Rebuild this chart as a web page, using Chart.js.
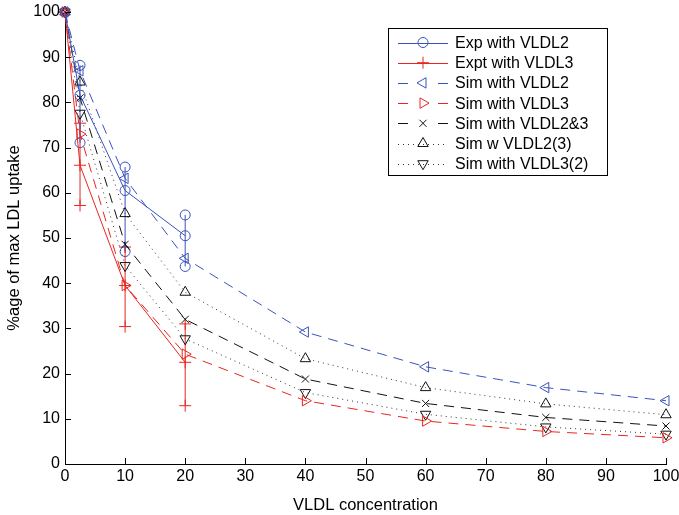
<!DOCTYPE html>
<html>
<head>
<meta charset="utf-8">
<script src="https://cdn.jsdelivr.net/npm/chart.js@4.4.0/dist/chart.umd.min.js"></script>
<style>
  body { margin: 0; background: #fff; }
  #wrap { width: 679px; height: 515px; }
</style>
</head>
<body>
<div id="wrap"><canvas id="chart" width="679" height="515"></canvas></div>
<script>
// values
const expX = [0, 2.5, 10, 20]
const exp2Mid = [100, 81.6, 60.5, 50.5]
const exp2Hi = [100, 88.2, 65.7, 55.1]
const exp2Lo = [100, 71.1, 47, 43.7]
const exp3Mid = [100, 66.1, 39.5, 22.5]
const exp3Hi = [100, 75.4, 48, 31]
const exp3Lo = [100, 57.2, 30.4, 12.9]

const simX = [0, 2.5, 10, 20, 40, 60, 80, 100]
const sim2 = [100, 87, 63.2, 45.5, 29.2, 21.5, 16.9, 14.0]
const sim3 = [100, 73, 39.5, 24.3, 14.0, 9.5, 7.2, 5.8]
const sim23 = [100, 81, 48.6, 32, 18.8, 13.4, 10.3, 8.4]
const sim2w3 = [100, 84.5, 55.4, 38, 23.3, 16.9, 13.3, 10.9]
const sim3w2 = [100, 77.6, 43.9, 27.7, 15.8, 11, 8.2, 6.6]

const xTicks = [0, 10, 20, 30, 40, 50, 60, 70, 80, 90, 100]
const yTicks = [0, 10, 20, 30, 40, 50, 60, 70, 80, 90, 100]

const BLUE = '#3b52bd'
const RED = '#e8261f'
const BLACK = '#111'
const DOTS = '#333'
const FONT = '"Liberation Sans", Arial, Helvetica, sans-serif'

function pts(xs, ys) {
    return xs.map((x, i) => ({ x: x, y: ys[i] }))
}

// vertical error bars as broken line segments
function bars(xs, lo, hi) {
    let out = []
    for (let i = 1; i < xs.length; i++) {
        out.push({ x: xs[i], y: lo[i] }, { x: xs[i], y: hi[i] }, { x: xs[i], y: null })
    }
    return out
}

const series = [
    { label: 'Exp with VLDL2', data: pts(expX, exp2Mid), color: BLUE, mark: BLUE, dash: [], legDash: [], pointStyle: 'circle', rot: 0, r: 5 },
    { label: 'Expt with VLDL3', data: pts(expX, exp3Mid), color: RED, mark: RED, dash: [], legDash: [], pointStyle: 'cross', rot: 0, r: 6 },
    { label: 'Sim with VLDL2', data: pts(simX, sim2), color: BLUE, mark: BLUE, dash: [10, 7], legDash: [10, 30], pointStyle: 'triangle', rot: -90, r: 6 },
    { label: 'Sim with VLDL3', data: pts(simX, sim3), color: RED, mark: RED, dash: [10, 7], legDash: [10, 30], pointStyle: 'triangle', rot: 90, r: 6 },
    { label: 'Sim with VLDL2&3', data: pts(simX, sim23), color: BLACK, mark: BLACK, dash: [10, 7], legDash: [10, 30], pointStyle: 'crossRot', rot: 0, r: 5 },
    { label: 'Sim w VLDL2(3)', data: pts(simX, sim2w3), color: DOTS, mark: BLACK, dash: [1, 4], legDash: [1, 4], pointStyle: 'triangle', rot: 0, r: 6 },
    { label: 'Sim with VLDL3(2)', data: pts(simX, sim3w2), color: DOTS, mark: BLACK, dash: [1, 4], legDash: [1, 4], pointStyle: 'triangle', rot: 180, r: 6 }
]

const datasets = series.map(s => ({
    label: s.label,
    data: s.data,
    borderColor: s.color,
    pointBorderColor: s.mark,
    backgroundColor: 'rgba(0,0,0,0)',
    borderWidth: 1,
    pointBorderWidth: 1,
    borderDash: s.dash,
    pointStyle: s.pointStyle,
    pointRotation: s.rot,
    pointRadius: s.r,
    tension: 0,
    clip: false
}))

datasets.push({
    label: 'err2',
    data: bars(expX, exp2Lo, exp2Hi),
    borderColor: BLUE, backgroundColor: 'rgba(0,0,0,0)', borderWidth: 1,
    pointStyle: 'circle', pointRadius: 5, pointBorderColor: BLUE, spanGaps: false, clip: false
})
datasets.push({
    label: 'err3',
    data: bars(expX, exp3Lo, exp3Hi),
    borderColor: RED, backgroundColor: 'rgba(0,0,0,0)', borderWidth: 1,
    pointStyle: 'cross', pointRadius: 6, pointBorderColor: RED, spanGaps: false, clip: false
})

// ticks pointing into the plot, like the original
const innerTicks = {
    id: 'innerTicks',
    afterDraw(chart) {
        const ctx = chart.ctx
        const xs = chart.scales.x, ys = chart.scales.y
        const a = chart.chartArea
        ctx.save()
        ctx.strokeStyle = '#000'
        ctx.lineWidth = 1
        ctx.beginPath()
        xTicks.forEach(v => {
            let px = Math.round(xs.getPixelForValue(v)) + 0.5
            ctx.moveTo(px, a.bottom)
            ctx.lineTo(px, a.bottom - 6)
        })
        yTicks.forEach(v => {
            let py = Math.round(ys.getPixelForValue(v)) + 0.5
            ctx.moveTo(a.left, py)
            ctx.lineTo(a.left + 6, py)
        })
        ctx.stroke()
        ctx.restore()
    }
}

// matlab style legend box
const boxLegend = {
    id: 'boxLegend',
    afterDraw(chart) {
        const ctx = chart.ctx
        const left = 388, top = 28, w = 219, h = 147
        ctx.save()
        ctx.fillStyle = '#fff'
        ctx.fillRect(left, top, w, h)
        ctx.strokeStyle = '#000'
        ctx.lineWidth = 1
        ctx.strokeRect(left + 0.5, top + 0.5, w, h)
        series.forEach((s, i) => {
            const y = top + 14.5 + i * 20.2
            ctx.strokeStyle = s.color
            ctx.setLineDash(s.legDash)
            ctx.beginPath()
            ctx.moveTo(398, Math.round(y) + 0.5)
            ctx.lineTo(448, Math.round(y) + 0.5)
            ctx.stroke()
            ctx.setLineDash([])
            ctx.strokeStyle = s.mark
            ctx.fillStyle = 'rgba(0,0,0,0)'
            Chart.helpers.drawPoint(ctx, {
                pointStyle: s.pointStyle, rotation: s.rot, radius: s.r, borderWidth: 1
            }, 423, y)
            ctx.fillStyle = '#000'
            ctx.font = '16px ' + FONT
            ctx.textBaseline = 'middle'
            ctx.fillText(s.label, 455, y + 1)
        })
        ctx.restore()
    }
}

new Chart(document.getElementById('chart'), {
    type: 'line',
    data: { datasets: datasets },
    plugins: [innerTicks, boxLegend],
    options: {
        responsive: false,
        animation: false,
        layout: { padding: { left: 0, right: 13, top: 12, bottom: 0 } },
        plugins: { legend: { display: false }, tooltip: { enabled: false } },
        scales: {
            x: {
                type: 'linear', min: 0, max: 100,
                afterBuildTicks: s => { s.ticks = xTicks.map(v => ({ value: v })) },
                afterFit: s => { s.height = 51; s.paddingLeft = 0; s.paddingRight = 0 },
                grid: { display: false, drawTicks: false },
                border: { display: true, color: '#000', width: 1 },
                ticks: { color: '#000', padding: 3, font: { family: FONT, size: 16 } },
                title: { display: true, text: 'VLDL concentration', color: '#000', padding: { top: 4, bottom: 0 }, font: { family: FONT, size: 16.5 } }
            },
            y: {
                type: 'linear', min: 0, max: 100,
                afterBuildTicks: s => { s.ticks = yTicks.map(v => ({ value: v })) },
                afterFit: s => { s.width = 65; s.paddingTop = 0; s.paddingBottom = 0 },
                grid: { display: false, drawTicks: false },
                border: { display: true, color: '#000', width: 1 },
                ticks: { color: '#000', padding: 5, font: { family: FONT, size: 16 } },
                title: { display: true, text: '%age of max LDL uptake', color: '#000', padding: { top: 5, bottom: 4 }, font: { family: FONT, size: 16.5 } }
            }
        }
    }
})
</script>
</body>
</html>
